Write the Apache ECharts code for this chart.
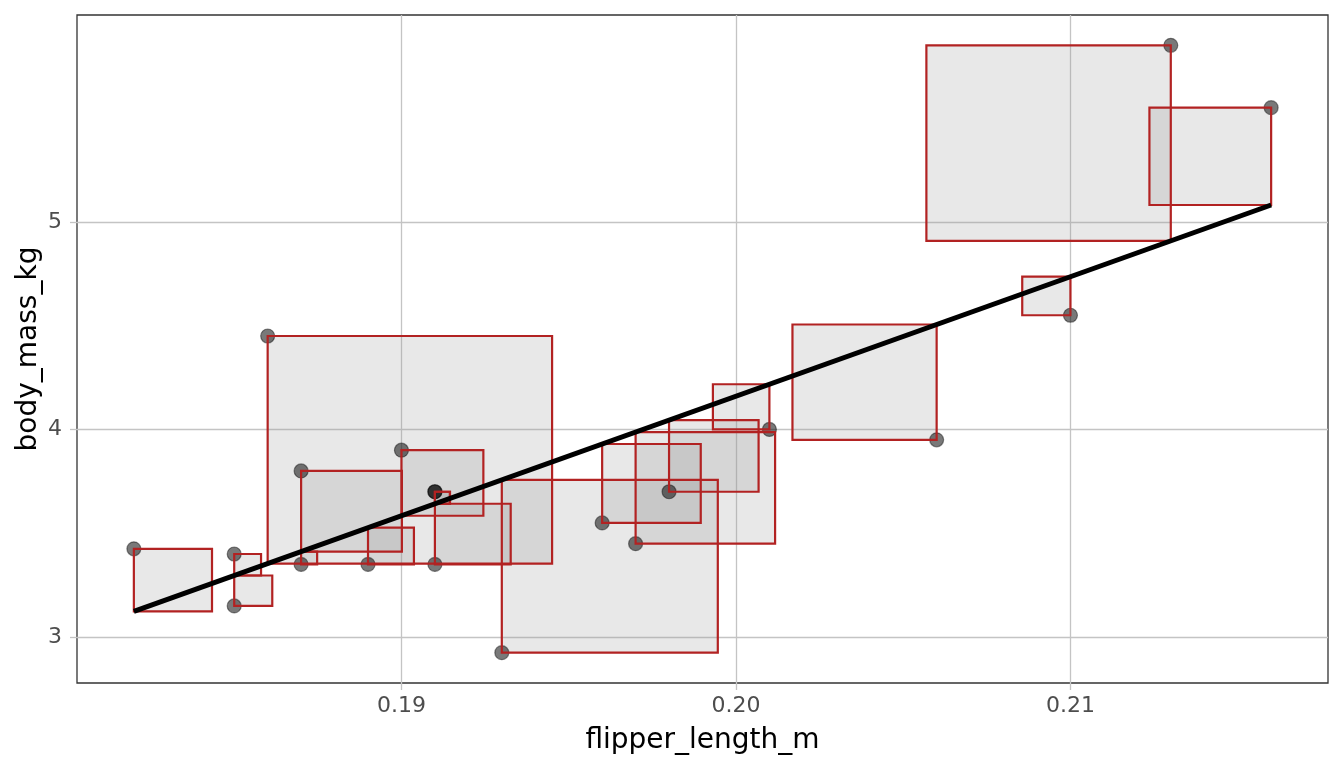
<!DOCTYPE html>
<html>
<head>
<meta charset="utf-8">
<title>body mass vs flipper length</title>
<script src="https://cdn.jsdelivr.net/npm/echarts@6/dist/echarts.min.js"></script>
<style>
  html, body { margin: 0; padding: 0; background: #fff; }
  #chart { width: 1344px; height: 768px; }
</style>
</head>
<body>
<div id="chart"></div>
<script>
// penguin sample
const flipperLengthM = [0.182, 0.185, 0.185, 0.186, 0.187, 0.187, 0.189, 0.190, 0.191, 0.191,
                        0.191, 0.193, 0.196, 0.197, 0.198, 0.201, 0.206, 0.210, 0.213, 0.216];
const bodyMassKg = [3.425, 3.40, 3.15, 4.45, 3.80, 3.35, 3.35, 3.90, 3.70, 3.70,
                    3.35, 2.925, 3.55, 3.45, 3.70, 4.00, 3.95, 4.55, 5.85, 5.55];

const xTicks = [0.19, 0.20, 0.21];
const yTicks = [3, 4, 5];

// width of a residual square in metres per kg of residual
const boxWidthPerKg = 0.00776;

// least squares fit
const n = flipperLengthM.length;
const mx = flipperLengthM.reduce((s, v) => s + v, 0) / n;
const my = bodyMassKg.reduce((s, v) => s + v, 0) / n;
let sxy = 0, sxx = 0;
for (let i = 0; i < n; i++) {
  sxy += (flipperLengthM[i] - mx) * (bodyMassKg[i] - my);
  sxx += (flipperLengthM[i] - mx) * (flipperLengthM[i] - mx);
}
const slope = sxy / sxx;
const intercept = my - slope * mx;
const fit = x => intercept + slope * x;

const xMin = Math.min(...flipperLengthM), xMax = Math.max(...flipperLengthM);
const yMin = Math.min(...bodyMassKg), yMax = Math.max(...bodyMassKg);
const midX = (xMin + xMax) / 2;

// squares go from the point to the line, growing toward the middle
let boxes = [];
for (let i = 0; i < n; i++) {
  let x = flipperLengthM[i], y = bodyMassKg[i];
  let f = fit(x);
  let w = Math.abs(y - f) * boxWidthPerKg;
  let x1 = x < midX ? x + w : x - w;
  boxes.push([x, y, x1, f]);
}

const points = flipperLengthM.map((x, i) => [x, bodyMassKg[i]]);
const fitLine = [[xMin, fit(xMin)], [xMax, fit(xMax)]];

// ggplot style 5% expansion
const xPad = (xMax - xMin) * 0.05, yPad = (yMax - yMin) * 0.05;

const FONT = 'DejaVu Sans';

// one rect per box, fill or outline only
function boxRenderer(style) {
  return function (params, api) {
    let p0 = api.coord([api.value(0), api.value(1)]);
    let p1 = api.coord([api.value(2), api.value(3)]);
    return {
      type: 'rect',
      shape: {
        x: Math.min(p0[0], p1[0]),
        y: Math.min(p0[1], p1[1]),
        width: Math.abs(p1[0] - p0[0]),
        height: Math.abs(p1[1] - p0[1])
      },
      style: style
    };
  };
}

var chart = echarts.init(document.getElementById('chart'));
var option = {
  animation: false,
  backgroundColor: '#ffffff',
  grid: {
    left: 77, right: 16, top: 15, bottom: 85,
    show: true,
    borderColor: '#333333',
    borderWidth: 1.3,
    backgroundColor: 'transparent'
  },
  xAxis: {
    type: 'value',
    min: xMin - xPad,
    max: xMax + xPad,
    name: 'flipper_length_m',
    nameLocation: 'middle',
    nameGap: 44,
    nameMoveOverlap: false,
    nameTextStyle: { fontFamily: FONT, fontSize: 28, color: '#000000' },
    axisLine: { show: false },
    axisTick: { show: true, length: 7, customValues: xTicks, lineStyle: { color: '#c4c4c4', width: 1.3 } },
    axisLabel: {
      customValues: xTicks,
      margin: 12,
      fontFamily: FONT, fontSize: 22, color: '#4d4d4d',
      formatter: v => v.toFixed(2)
    },
    splitLine: { show: true, lineStyle: { color: '#c4c4c4', width: 1.3 } }
  },
  yAxis: {
    type: 'value',
    min: yMin - yPad,
    max: yMax + yPad,
    name: 'body_mass_kg',
    nameLocation: 'middle',
    nameGap: 34,
    nameMoveOverlap: false,
    nameRotate: 90,
    nameTextStyle: { fontFamily: FONT, fontSize: 28, color: '#000000' },
    axisLine: { show: false },
    axisTick: { show: true, length: 7, customValues: yTicks, lineStyle: { color: '#c4c4c4', width: 1.3 } },
    axisLabel: {
      customValues: yTicks,
      margin: 15,
      fontFamily: FONT, fontSize: 22, color: '#4d4d4d',
      formatter: v => String(Math.round(v))
    },
    splitLine: { show: true, lineStyle: { color: '#c4c4c4', width: 1.3 } }
  },
  series: [
    {
      name: 'residual fill',
      type: 'custom',
      z: 1,
      data: boxes,
      renderItem: boxRenderer({ fill: 'rgba(150,150,150,0.22)', stroke: null })
    },
    {
      name: 'penguins',
      type: 'scatter',
      z: 2,
      data: points,
      symbolSize: 14,
      itemStyle: { color: 'rgba(0,0,0,0.66)', borderColor: 'rgba(0,0,0,0.55)', borderWidth: 1.2 }
    },
    {
      name: 'residual outline',
      type: 'custom',
      z: 3,
      data: boxes,
      renderItem: boxRenderer({ fill: null, stroke: '#b22222', lineWidth: 2.2 })
    },
    {
      name: 'fit',
      type: 'line',
      z: 4,
      data: fitLine,
      symbol: 'none',
      lineStyle: { color: '#000000', width: 5, cap: 'butt' }
    }
  ]
};
chart.setOption(option);
</script>
</body>
</html>
